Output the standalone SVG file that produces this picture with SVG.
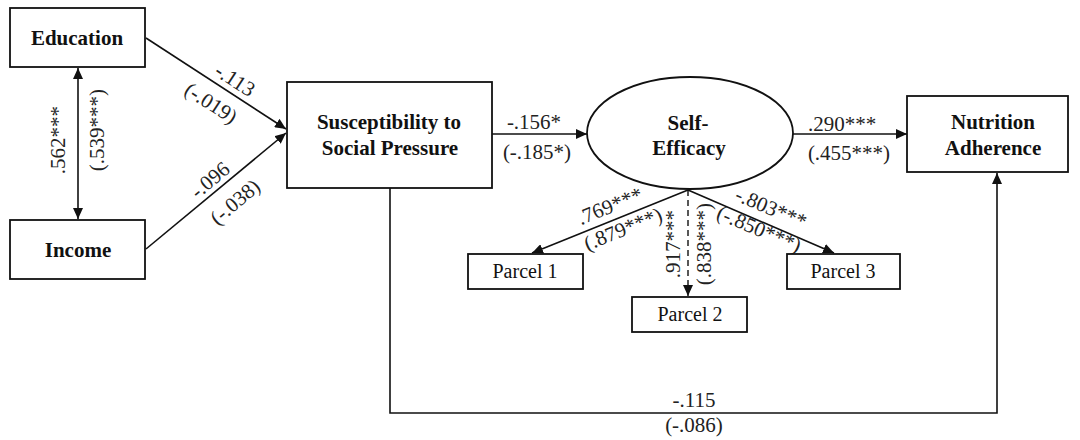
<svg xmlns="http://www.w3.org/2000/svg" width="1080" height="440" viewBox="0 0 1080 440">
<defs>
<style>
.box{fill:#fff;stroke:#111;stroke-width:1.8}
.line{fill:none;stroke:#111;stroke-width:1.6}
.dash{fill:none;stroke:#111;stroke-width:1.4;stroke-dasharray:6,4}
.t{font-family:'Liberation Serif','DejaVu Serif',serif;font-size:21px;fill:#111;text-anchor:middle}
.b{font-weight:bold}
.p{font-size:20px}
.lab{font-family:'Liberation Serif','DejaVu Serif',serif;font-size:21px;fill:#222;text-anchor:middle;dominant-baseline:central}
</style>
<marker id="arr" viewBox="0 0 11 10" refX="11" refY="5" markerWidth="11" markerHeight="10" markerUnits="userSpaceOnUse" orient="auto-start-reverse">
<path d="M0,0 L11,5 L0,10 z" fill="#111"/>
</marker>
</defs>
<rect width="1080" height="440" fill="#fff"/>

<g id="connectors">
<line class="line" x1="78" y1="68" x2="78" y2="219" marker-start="url(#arr)" marker-end="url(#arr)"/>
<line class="line" x1="146" y1="38" x2="286" y2="129" marker-end="url(#arr)"/>
<line class="line" x1="146" y1="249" x2="286" y2="133" marker-end="url(#arr)"/>
<line class="line" x1="492" y1="134" x2="587" y2="134" marker-end="url(#arr)"/>
<line class="line" x1="793" y1="134" x2="907" y2="134" marker-end="url(#arr)"/>
<line class="line" x1="688" y1="190" x2="532" y2="253" marker-end="url(#arr)"/>
<line class="dash" x1="688" y1="190" x2="688" y2="296" marker-end="url(#arr)"/>
<line class="line" x1="688" y1="190" x2="834" y2="253" marker-end="url(#arr)"/>
<polyline class="line" points="390,188 390,413 997,413 997,173" marker-end="url(#arr)"/>

<text class="lab" transform="translate(58,140) rotate(-90)">.562***</text>
<text class="lab" transform="translate(97,130) rotate(-90)">(.539***)</text>
<text class="lab" transform="translate(235,80) rotate(33)">-.113</text>
<text class="lab" transform="translate(211,103) rotate(33)">(-.019)</text>
<text class="lab" transform="translate(210,180) rotate(-40)">-.096</text>
<text class="lab" transform="translate(235,202) rotate(-40)">(-.038)</text>
<text class="lab" x="534" y="122">-.156*</text>
<text class="lab" x="537" y="152">(-.185*)</text>
<text class="lab" x="842" y="124">.290***</text>
<text class="lab" x="849" y="153">(.455***)</text>
<text class="lab" transform="translate(610,206) rotate(-22)">.769***</text>
<text class="lab" transform="translate(623,229) rotate(-22)">(.879***)</text>
<text class="lab" transform="translate(673,244) rotate(-90)">.917***</text>
<text class="lab" transform="translate(704,244) rotate(-90)">(.838***)</text>
<text class="lab" transform="translate(771,208) rotate(23)">-.803***</text>
<text class="lab" transform="translate(759,229) rotate(23)">(-.850***)</text>
<text class="lab" x="694" y="400">-.115</text>
<text class="lab" x="694" y="425">(-.086)</text>
</g>

<g id="education">
<rect class="box" x="10" y="8" width="135" height="59"/>
<text class="t b" x="77" y="45">Education</text>
</g>
<g id="income">
<rect class="box" x="10" y="220" width="135" height="59"/>
<text class="t b" x="78" y="257">Income</text>
</g>
<g id="ssp">
<rect class="box" x="287" y="82" width="205" height="106"/>
<text class="t b" x="389" y="129">Susceptibility to</text>
<text class="t b" x="390" y="155">Social Pressure</text>
</g>
<g id="self-efficacy">
<ellipse class="box" cx="690" cy="133" rx="103" ry="56"/>
<text class="t b" x="688" y="130">Self-</text>
<text class="t b" x="689" y="155">Efficacy</text>
</g>
<g id="nutrition">
<rect class="box" x="907" y="96" width="161" height="76"/>
<text class="t b" x="993" y="129">Nutrition</text>
<text class="t b" x="993" y="155">Adherence</text>
</g>
<g id="parcel1">
<rect class="box" x="468" y="254" width="115" height="35"/>
<text class="t p" x="525" y="278">Parcel 1</text>
</g>
<g id="parcel2">
<rect class="box" x="632" y="297" width="115" height="35"/>
<text class="t p" x="690" y="321">Parcel 2</text>
</g>
<g id="parcel3">
<rect class="box" x="787" y="254" width="113" height="35"/>
<text class="t p" x="843" y="278">Parcel 3</text>
</g>
</svg>
